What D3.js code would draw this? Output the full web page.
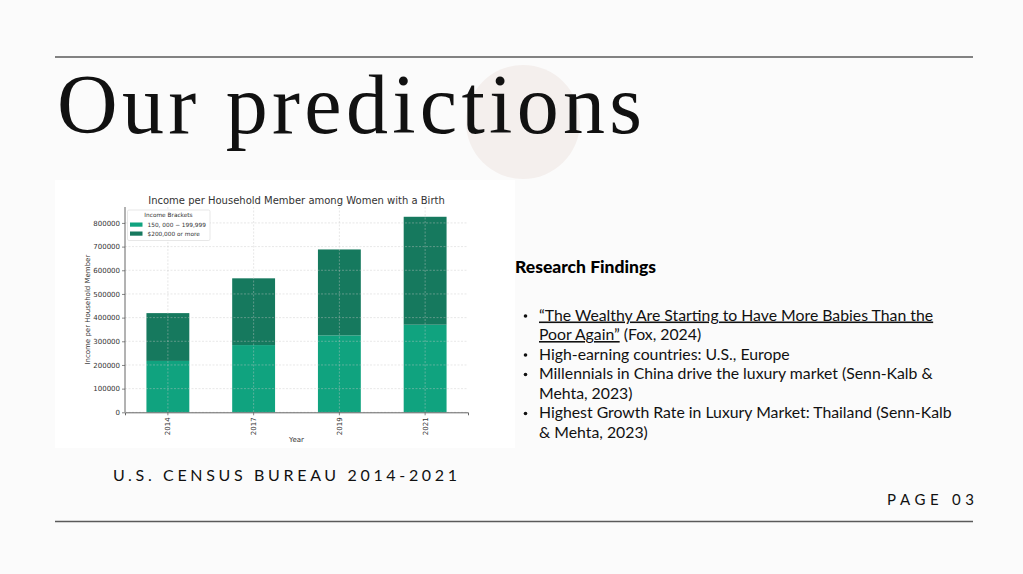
<!DOCTYPE html>
<html>
<head>
<meta charset="utf-8">
<script src="https://cdn.jsdelivr.net/npm/d3@7"></script>
<style>
  body { margin: 0; background: #fbfbfb; }
  svg { display: block; }
</style>
</head>
<body>
<svg id="slide" width="1023" height="574"></svg>
<script>
// chart data
const years = ['2014', '2017', '2019', '2021'];
const bracketMid = [217000, 284000, 325000, 370000];   // 150,000 - 199,999
const bracketTop = [202000, 282000, 363000, 456000];   // $200,000 or more
const bracketNames = ['150, 000 \u2212 199,999', '$200,000 or more'];
const bracketColors = ['#10a37f', '#16795e'];
const yTicks = [0, 100000, 200000, 300000, 400000, 500000, 600000, 700000, 800000];

// slide text
const slideTitle = 'Our predictions';
const sourceLabel = 'U.S. CENSUS BUREAU 2014-2021';
const pageLabel = 'PAGE 03';
const findingsTitle = 'Research Findings';
// each item: list of lines, each line: list of [text, underlined]
const findings = [
	[[['\u201CThe Wealthy Are Starting to Have More Babies Than the', true]],
	 [['Poor Again\u201D', true], [' (Fox, 2024)', false]]],
	[[['High-earning countries: U.S., Europe', false]]],
	[[['Millennials in China drive the luxury market (Senn-Kalb &', false]],
	 [['Mehta, 2023)', false]]],
	[[['Highest Growth Rate in Luxury Market: Thailand (Senn-Kalb', false]],
	 [['& Mehta, 2023)', false]]]
];

const svg = d3.select('#slide');

// background decoration
svg.append('rect').attr('width', 1023).attr('height', 574).attr('fill', '#fbfbfb');
svg.append('circle').attr('cx', 523).attr('cy', 122).attr('r', 57).attr('fill', '#f4efed');
[57, 521.5].forEach(y => {
	svg.append('line')
		.attr('x1', 55).attr('x2', 973).attr('y1', y).attr('y2', y)
		.attr('stroke', '#5a5a5a').attr('stroke-width', 1.6);
});

svg.append('text')
	.attr('x', 57).attr('y', 133)
	.attr('textLength', 585).attr('lengthAdjust', 'spacing')
	.style('font', '84px "Liberation Serif", serif')
	.attr('fill', '#111')
	.text(slideTitle);

svg.append('text')
	.attr('x', 113).attr('y', 481)
	.attr('textLength', 344).attr('lengthAdjust', 'spacing')
	.style('font', '16px Lato, sans-serif')
	.attr('fill', '#111')
	.text(sourceLabel);

svg.append('text')
	.attr('x', 887).attr('y', 505)
	.attr('textLength', 87).attr('lengthAdjust', 'spacing')
	.style('font', '15px Lato, sans-serif')
	.attr('fill', '#111')
	.text(pageLabel);

// research findings block
svg.append('text')
	.attr('x', 515).attr('y', 273)
	.style('font', '900 17.5px Lato, sans-serif')
	.attr('fill', '#000')
	.text(findingsTitle);

const lineH = 19.5;
let row = 0;
const listG = svg.append('g').style('font', '15.8px Lato, sans-serif').attr('fill', '#111');
findings.forEach(item => {
	const y0 = 320.5 + row * lineH;
	listG.append('circle').attr('cx', 525.5).attr('cy', y0 - 4.5).attr('r', 1.8).attr('fill', '#111');
	item.forEach(line => {
		const t = listG.append('text').attr('x', 539).attr('y', 320.5 + row * lineH);
		line.forEach(seg => {
			t.append('tspan')
				.attr('text-decoration', seg[1] ? 'underline' : null)
				.text(seg[0]);
		});
		row++;
	});
});

// chart image
const chart = svg.append('g');
chart.append('rect').attr('x', 55).attr('y', 180).attr('width', 460).attr('height', 268).attr('fill', '#fff');

const plot = { left: 125, right: 468, top: 207, bottom: 412.3 };
const totals = years.map((d, i) => bracketMid[i] + bracketTop[i]);

const x = d3.scaleBand()
	.domain(years)
	.range([plot.left, plot.right])
	.paddingInner(0.5)
	.paddingOuter(0.25);
const y = d3.scaleLinear()
	.domain([0, d3.max(totals) * 1.05])
	.range([plot.bottom, plot.top]);

const stacked = d3.stack().keys([0, 1]).value((d, k) => d[k])(
	years.map((d, i) => [bracketMid[i], bracketTop[i]])
);

stacked.forEach((layer, k) => {
	chart.append('g').selectAll('rect')
		.data(layer)
		.join('rect')
		.attr('x', (d, i) => x(years[i]))
		.attr('width', x.bandwidth())
		.attr('y', d => y(d[1]))
		.attr('height', d => y(d[0]) - y(d[1]))
		.attr('fill', bracketColors[k]);
});

// grid over bars (matplotlib style)
const grid = chart.append('g')
	.attr('stroke', '#c8c8c8')
	.attr('stroke-opacity', 0.7)
	.attr('stroke-width', 0.6)
	.attr('stroke-dasharray', '2,1.5');
grid.selectAll('.hg').data(yTicks).join('line')
	.attr('x1', plot.left).attr('x2', plot.right)
	.attr('y1', d => y(d)).attr('y2', d => y(d));
grid.selectAll('.vg').data(years).join('line')
	.attr('x1', d => x(d) + x.bandwidth() / 2).attr('x2', d => x(d) + x.bandwidth() / 2)
	.attr('y1', plot.top).attr('y2', plot.bottom);

const yAxis = d3.axisLeft(y).tickValues(yTicks).tickFormat(d3.format('d')).tickSize(3).tickPadding(2);
const xAxis = d3.axisBottom(x).tickSize(3).tickPadding(2);

const gy = chart.append('g')
	.attr('transform', `translate(${plot.left},0)`)
	.call(yAxis);
gy.select('.domain').attr('d', `M0,${plot.top}V${plot.bottom}`);

const gx = chart.append('g')
	.attr('transform', `translate(0,${plot.bottom})`)
	.call(xAxis);
gx.selectAll('.tick text')
	.attr('transform', 'rotate(-90)')
	.attr('x', -5)
	.attr('y', 0)
	.attr('dy', '0.35em')
	.style('text-anchor', 'end');

[gx, gy].forEach(g => {
	g.selectAll('.domain').attr('stroke', '#555').attr('stroke-width', 0.9);
	g.selectAll('.tick line').attr('stroke', '#555').attr('stroke-width', 0.7);
	g.selectAll('.tick text').attr('fill', '#333').style('font', '7px "DejaVu Sans", sans-serif');
});

chart.append('text')
	.attr('x', (plot.left + plot.right) / 2).attr('y', 203.5)
	.style('text-anchor', 'middle')
	.style('font', '10px "DejaVu Sans", sans-serif')
	.attr('fill', '#333')
	.text('Income per Household Member among Women with a Birth');

chart.append('text')
	.attr('x', (plot.left + plot.right) / 2).attr('y', 442)
	.style('text-anchor', 'middle')
	.style('font', '7px "DejaVu Sans", sans-serif')
	.attr('fill', '#333')
	.text('Year');

chart.append('text')
	.attr('transform', `translate(90,${(plot.top + plot.bottom) / 2}) rotate(-90)`)
	.style('text-anchor', 'middle')
	.style('font', '7px "DejaVu Sans", sans-serif')
	.attr('fill', '#333')
	.text('Income per Household Member');

// legend
const lg = chart.append('g').attr('transform', 'translate(127.5,210)');
lg.append('rect')
	.attr('width', 82.5).attr('height', 30.5).attr('rx', 1.5)
	.attr('fill', 'rgba(255,255,255,0.9)').attr('stroke', '#d6d6d6').attr('stroke-width', 0.6);
lg.append('text')
	.attr('x', 41).attr('y', 7)
	.style('text-anchor', 'middle')
	.style('font', '5.8px "DejaVu Sans", sans-serif')
	.attr('fill', '#333')
	.text('Income Brackets');
bracketNames.forEach((name, k) => {
	lg.append('rect')
		.attr('x', 2.5).attr('y', 12.5 + k * 9).attr('width', 12.5).attr('height', 4.2)
		.attr('fill', bracketColors[k]);
	lg.append('text')
		.attr('x', 20).attr('y', 16.7 + k * 9)
		.style('font', '5.8px "DejaVu Sans", sans-serif')
		.attr('fill', '#333')
		.text(name);
});
</script>
</body>
</html>
